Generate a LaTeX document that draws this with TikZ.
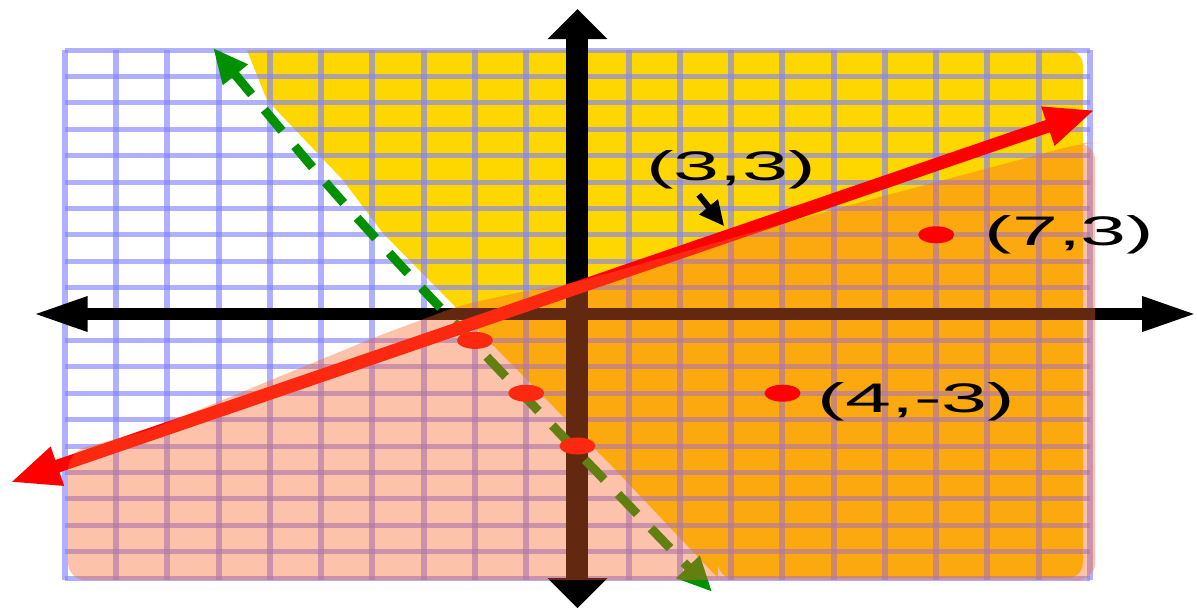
\documentclass[tikz,border=0pt]{standalone}
\usepackage{fontspec}
\setmainfont{Liberation Sans}
\usetikzlibrary{arrows.meta,positioning,calc}

\definecolor{gridblue}{RGB}{130,130,255}
\definecolor{regyellow}{RGB}{255,215,0}
\definecolor{regsalmon}{RGB}{248,102,42}
\definecolor{linegreen}{RGB}{0,144,0}

\tikzset{
  gridline/.style={gridblue, opacity=0.63},
  ptlabel/.style={inner sep=0pt, font=\fontsize{23.5}{28}\selectfont},
  testdot/.style={red},
}
% the whole drawing is stretched sideways, so is the text
\newcommand{\widetext}[1]{\scalebox{2}[1]{#1}}

\begin{document}
\begin{tikzpicture}[x=1.025cm, y=0.528cm]
    \useasboundingbox (-11.268,-11.212) rectangle (12.088,11.894);

    % half-plane right of the dashed line
    \fill[regyellow] (2.74,-10) -- (0.69,-5.8) -- (-3.8,3.07) -- (-4.58,5.08) -- (-6.06,8.11) -- (-6.45,10)
        [rounded corners=0.3cm] -- (9.86,10) -- (9.86,-10) -- (2.74,-10) [sharp corners] -- cycle;

    % grid
    \foreach \i in {-10,...,10} {
        \draw[gridline, line width=0.12cm] (\i,-10.08) -- (\i,10);
        \draw[gridline, line width=0.1cm] (-10,\i) -- (10,\i);
    }

    % axes
    \draw[line width=0.24cm, {Triangle[length=1.1cm,width=0.64cm]}-{Triangle[length=1.1cm,width=0.64cm]}] (-10.63,0) -- (12.09,0);
    \draw[line width=0.44cm, {Triangle[length=0.6cm,width=1.16cm]}-{Triangle[length=0.6cm,width=1.16cm]}] (0,-11.14) -- (0,11.55);

    % dashed boundary
    \draw[linegreen, line width=0.18cm, dash pattern=on 0.55cm off 0.4cm,
          {Triangle[length=0.7cm,width=0.6cm]}-{Triangle[length=0.7cm,width=0.6cm]}]
        plot[smooth] coordinates {(-7.11,10.08) (-3.55,2.05) (2.63,-10.53)};

    % solid boundary y = 2/3 x + 1
    \draw[red, line width=0.26cm, {Triangle[length=1cm,width=0.75cm]}-{Triangle[length=1cm,width=0.75cm]}] (-11.07,-6.38) -- (10.1,7.73);

    % points on the dashed line
    \foreach \p in {(-2,-1),(-1,-3),(0,-5)}
        \fill[testdot] \p ellipse [x radius=0.36cm, y radius=0.17cm];

    % half-plane below the solid line
    \fill[regsalmon, opacity=0.4, rounded corners=0.35cm]
        (-9.94,-10.08) -- (-9.94,-5.23) -- (-8.34,-4.39) -- (-3.85,-0.8) -- (-2.88,-0.11)
        -- (-2.35,0.3) -- (-1.12,0.83) -- (-0.01,1.21) -- (3.03,2.88) -- (5.32,4.13)
        -- (9.86,6.48) -- (10.1,6.48) -- (10.1,-10.08) -- cycle;

    % test points
    \coordinate (p33) at (3,3);
    \coordinate (p73) at (7,3);
    \coordinate (p4m3) at (4,-3);
    \fill[testdot] (p73) ellipse [x radius=0.36cm, y radius=0.17cm];
    \fill[testdot] (p4m3) ellipse [x radius=0.36cm, y radius=0.17cm];

    \node[ptlabel, above=0.9cm of p33] (lbl33) {\widetext{(3,3)}};
    \node[ptlabel, right=0.96cm of p73] (lbl73) {\widetext{(7,3)}};
    \node[ptlabel, right=0.7cm of p4m3, yshift=-0.18cm] (lbl4m3) {\widetext{(4,-3)}};

    \draw[line width=0.12cm, -{Triangle[length=0.5cm,width=0.45cm]}, shorten >=0.22cm]
        ([xshift=-0.65cm, yshift=-0.1cm]lbl33.south) -- (p33);
\end{tikzpicture}
\end{document}
